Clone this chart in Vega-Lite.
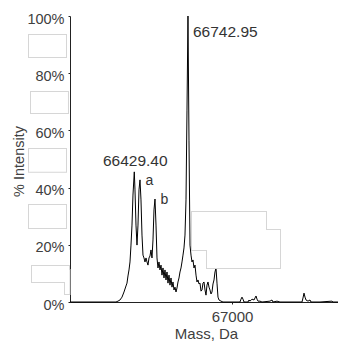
{
  "$schema": "https://vega.github.io/schema/vega-lite/v6.json",
  "width": 268,
  "height": 286,
  "autosize": "none",
  "padding": {"left": 70, "top": 16, "right": 0, "bottom": 39},
  "background": "white",
  "config": {"view": {"stroke": null}, "font": "Liberation Sans"},
  "datasets": {
    "spectrum": [
      {"mass": 66053.9, "intensity": 0}, {"mass": 66322.6, "intensity": 0}, {"mass": 66334.2, "intensity": 0.3},
      {"mass": 66345.9, "intensity": 0.7}, {"mass": 66357.6, "intensity": 1.7}, {"mass": 66369.3, "intensity": 3.5},
      {"mass": 66381.0, "intensity": 5.6}, {"mass": 66386.8, "intensity": 6.6}, {"mass": 66392.6, "intensity": 9.1},
      {"mass": 66398.5, "intensity": 11.2}, {"mass": 66404.3, "intensity": 14.0}, {"mass": 66410.2, "intensity": 19.9},
      {"mass": 66416.0, "intensity": 26.9}, {"mass": 66421.8, "intensity": 37.4}, {"mass": 66429.4, "intensity": 45.5},
      {"mass": 66433.5, "intensity": 39.2}, {"mass": 66439.4, "intensity": 26.9}, {"mass": 66445.2, "intensity": 19.9},
      {"mass": 66451.0, "intensity": 26.9}, {"mass": 66456.9, "intensity": 39.2}, {"mass": 66462.7, "intensity": 42.7},
      {"mass": 66468.6, "intensity": 35.7}, {"mass": 66474.4, "intensity": 23.4}, {"mass": 66480.2, "intensity": 16.4},
      {"mass": 66486.1, "intensity": 15.4}, {"mass": 66491.9, "intensity": 14.0}, {"mass": 66497.8, "intensity": 15.4},
      {"mass": 66503.6, "intensity": 14.0}, {"mass": 66509.4, "intensity": 12.9}, {"mass": 66515.3, "intensity": 15.4},
      {"mass": 66521.1, "intensity": 16.1}, {"mass": 66527.0, "intensity": 18.2}, {"mass": 66532.8, "intensity": 15.4},
      {"mass": 66538.6, "intensity": 21.7}, {"mass": 66544.5, "intensity": 32.2}, {"mass": 66550.3, "intensity": 36.0},
      {"mass": 66556.2, "intensity": 26.9}, {"mass": 66562.0, "intensity": 15.4}, {"mass": 66567.8, "intensity": 11.9},
      {"mass": 66573.7, "intensity": 14.0}, {"mass": 66579.5, "intensity": 11.2}, {"mass": 66585.4, "intensity": 12.9},
      {"mass": 66591.2, "intensity": 9.4}, {"mass": 66597.0, "intensity": 11.9}, {"mass": 66602.9, "intensity": 8.4},
      {"mass": 66608.7, "intensity": 11.2}, {"mass": 66614.6, "intensity": 7.7}, {"mass": 66620.4, "intensity": 10.5},
      {"mass": 66626.2, "intensity": 6.6}, {"mass": 66632.1, "intensity": 9.4}, {"mass": 66637.9, "intensity": 5.9},
      {"mass": 66643.8, "intensity": 8.4}, {"mass": 66649.6, "intensity": 5.2}, {"mass": 66655.4, "intensity": 7.0},
      {"mass": 66661.3, "intensity": 4.2}, {"mass": 66667.1, "intensity": 5.2}, {"mass": 66673.0, "intensity": 3.5},
      {"mass": 66678.8, "intensity": 4.9}, {"mass": 66684.6, "intensity": 7.0}, {"mass": 66690.5, "intensity": 8.4},
      {"mass": 66696.3, "intensity": 10.5}, {"mass": 66702.2, "intensity": 11.9}, {"mass": 66708.0, "intensity": 14.0},
      {"mass": 66713.8, "intensity": 16.4}, {"mass": 66719.7, "intensity": 18.9}, {"mass": 66725.5, "intensity": 23.4},
      {"mass": 66731.4, "intensity": 35.7}, {"mass": 66737.2, "intensity": 67.1}, {"mass": 66742.95, "intensity": 100},
      {"mass": 66748.9, "intensity": 56.6}, {"mass": 66754.7, "intensity": 19.9}, {"mass": 66760.6, "intensity": 16.4},
      {"mass": 66766.4, "intensity": 14.0}, {"mass": 66772.2, "intensity": 14.7}, {"mass": 66778.1, "intensity": 11.9},
      {"mass": 66783.9, "intensity": 12.9}, {"mass": 66789.8, "intensity": 9.4}, {"mass": 66795.6, "intensity": 7.0},
      {"mass": 66801.4, "intensity": 7.7}, {"mass": 66807.3, "intensity": 6.3}, {"mass": 66813.1, "intensity": 6.6},
      {"mass": 66819.0, "intensity": 3.8}, {"mass": 66824.8, "intensity": 4.2}, {"mass": 66830.6, "intensity": 6.6},
      {"mass": 66836.5, "intensity": 7.0}, {"mass": 66842.3, "intensity": 4.2}, {"mass": 66848.2, "intensity": 2.4},
      {"mass": 66854.0, "intensity": 5.9}, {"mass": 66859.8, "intensity": 7.0}, {"mass": 66865.7, "intensity": 5.2},
      {"mass": 66871.5, "intensity": 4.2}, {"mass": 66877.4, "intensity": 2.8}, {"mass": 66883.2, "intensity": 3.5},
      {"mass": 66889.0, "intensity": 6.3}, {"mass": 66894.9, "intensity": 7.7}, {"mass": 66900.7, "intensity": 10.5},
      {"mass": 66906.6, "intensity": 11.9}, {"mass": 66912.4, "intensity": 6.6}, {"mass": 66918.2, "intensity": 1.7},
      {"mass": 66924.1, "intensity": 0.7}, {"mass": 66935.8, "intensity": 0.3}, {"mass": 66947.4, "intensity": 0},
      {"mass": 67046.7, "intensity": 0}, {"mass": 67052.6, "intensity": 1.0}, {"mass": 67058.4, "intensity": 1.7},
      {"mass": 67064.2, "intensity": 1.0}, {"mass": 67070.1, "intensity": 0}, {"mass": 67093.4, "intensity": 0},
      {"mass": 67099.3, "intensity": 0.7}, {"mass": 67105.1, "intensity": 0.3}, {"mass": 67116.8, "intensity": 1.0},
      {"mass": 67128.5, "intensity": 0.7}, {"mass": 67134.3, "intensity": 1.4}, {"mass": 67140.2, "intensity": 2.1},
      {"mass": 67146.0, "intensity": 1.0}, {"mass": 67151.8, "intensity": 0.3}, {"mass": 67163.5, "intensity": 0.3},
      {"mass": 67175.2, "intensity": 0}, {"mass": 67221.9, "intensity": 0.3}, {"mass": 67233.6, "intensity": 0.7},
      {"mass": 67239.4, "intensity": 0}, {"mass": 67262.8, "intensity": 0.3}, {"mass": 67280.3, "intensity": 0},
      {"mass": 67408.8, "intensity": 0}, {"mass": 67414.6, "intensity": 1.4}, {"mass": 67420.5, "intensity": 3.1},
      {"mass": 67426.3, "intensity": 1.7}, {"mass": 67432.2, "intensity": 0.7}, {"mass": 67443.8, "intensity": 0.3},
      {"mass": 67455.5, "intensity": 0.7}, {"mass": 67461.4, "intensity": 0}, {"mass": 67513.9, "intensity": 0},
      {"mass": 67584.0, "intensity": 0.3}, {"mass": 67589.7, "intensity": 0}, {"mass": 67619.0, "intensity": 0}
    ],
    "peaks": [
      {"mass": 66429.4, "intensity": 45.5, "label": "66429.40", "kind": "main"},
      {"mass": 66742.95, "intensity": 100, "label": "66742.95", "kind": "top"},
      {"mass": 66462.7, "intensity": 42.7, "label": "a", "kind": "letter"},
      {"mass": 66550.3, "intensity": 36.0, "label": "b", "kind": "letter"}
    ],
    "boxes": [
      {"mass_start": 65814.5, "mass_end": 66030.6, "int_low": 85.7, "int_high": 93.4},
      {"mass_start": 65826.2, "mass_end": 66042.2, "int_low": 66.1, "int_high": 73.4},
      {"mass_start": 65814.5, "mass_end": 66030.6, "int_low": 45.5, "int_high": 53.5},
      {"mass_start": 65814.5, "mass_end": 66030.6, "int_low": 25.9, "int_high": 33.9},
      {"mass_start": 65832.0, "mass_end": 66048.1, "int_low": 7.0, "int_high": 12.6},
      {"mass_start": 66024.7, "mass_end": 66051.0, "int_low": 2.8, "int_high": 11.2},
      {"mass_start": 66766.4, "mass_end": 67198.6, "int_low": 18.2, "int_high": 31.5},
      {"mass_start": 66854.0, "mass_end": 67280.3, "int_low": 11.9, "int_high": 25.2}
    ]
  },
  "layer": [
    {
      "data": {"name": "spectrum"},
      "mark": {"type": "line", "color": "black", "strokeWidth": 1, "interpolate": "linear"},
      "encoding": {
        "x": {
          "field": "mass", "type": "quantitative",
          "scale": {"domain": [66054, 67619], "nice": false, "zero": false},
          "axis": {
            "values": [67000], "format": "d", "title": "Mass, Da", "grid": false,
            "domainColor": "#222", "domainWidth": 1, "tickColor": "#222", "tickSize": 2,
            "labelFontSize": 15, "labelColor": "#404040", "labelPadding": 5, "labelFont": "Liberation Sans",
            "titleFontSize": 15, "titleFontWeight": "normal", "titleColor": "#404040", "titleFont": "Liberation Sans",
            "titleBaseline": "alphabetic", "titleY": 36, "titleX": 136, "titleAlign": "center"
          }
        },
        "y": {
          "field": "intensity", "type": "quantitative",
          "scale": {"domain": [0, 100], "nice": false},
          "axis": {
            "values": [0, 10, 20, 30, 40, 50, 60, 70, 80, 90, 100],
            "labelExpr": "datum.value % 20 === 0 ? datum.value + '%' : ''",
            "title": "% Intensity", "grid": false,
            "domainColor": "#222", "domainWidth": 1, "tickColor": "#222", "tickSize": 2,
            "labelFontSize": 14.5, "labelColor": "#404040", "labelPadding": 4, "labelOffset": 3,
            "labelFont": "Liberation Sans", "labelBaseline": "middle",
            "titleFontSize": 14.5, "titleFontWeight": "normal", "titleColor": "#404040", "titleFont": "Liberation Sans",
            "titleBaseline": "alphabetic", "titleX": -46.5, "titleY": 145, "titleAlign": "center", "titleAngle": -90
          }
        }
      }
    },
    {
      "data": {"name": "boxes"},
      "mark": {"type": "rect", "fill": null, "stroke": "#d6d6d6", "strokeWidth": 2},
      "encoding": {
        "x": {"field": "mass_start", "type": "quantitative"},
        "x2": {"field": "mass_end"},
        "y": {"field": "int_low", "type": "quantitative"},
        "y2": {"field": "int_high"}
      }
    },
    {
      "data": {"name": "boxes"},
      "mark": {"type": "rect", "fill": "white", "strokeWidth": 0},
      "encoding": {
        "x": {"field": "mass_start", "type": "quantitative"},
        "x2": {"field": "mass_end"},
        "y": {"field": "int_low", "type": "quantitative"},
        "y2": {"field": "int_high"}
      }
    },
    {
      "data": {"name": "peaks"},
      "transform": [{"filter": "datum.kind === 'main'"}],
      "mark": {"type": "text", "align": "center", "baseline": "alphabetic", "dx": 1, "dy": -5.5, "fontSize": 15.5, "color": "#333", "font": "Liberation Sans"},
      "encoding": {
        "x": {"field": "mass", "type": "quantitative"},
        "y": {"field": "intensity", "type": "quantitative"},
        "text": {"field": "label"}
      }
    },
    {
      "data": {"name": "peaks"},
      "transform": [{"filter": "datum.kind === 'top'"}],
      "mark": {"type": "text", "align": "left", "baseline": "alphabetic", "dx": 5, "dy": 21, "fontSize": 15.5, "color": "#333", "font": "Liberation Sans"},
      "encoding": {
        "x": {"field": "mass", "type": "quantitative"},
        "y": {"field": "intensity", "type": "quantitative"},
        "text": {"field": "label"}
      }
    },
    {
      "data": {"name": "peaks"},
      "transform": [{"filter": "datum.kind === 'letter'"}],
      "mark": {"type": "text", "align": "left", "baseline": "alphabetic", "dx": 5.5, "dy": 5, "fontSize": 14, "color": "#333", "font": "Liberation Sans"},
      "encoding": {
        "x": {"field": "mass", "type": "quantitative"},
        "y": {"field": "intensity", "type": "quantitative"},
        "text": {"field": "label"}
      }
    }
  ]
}
